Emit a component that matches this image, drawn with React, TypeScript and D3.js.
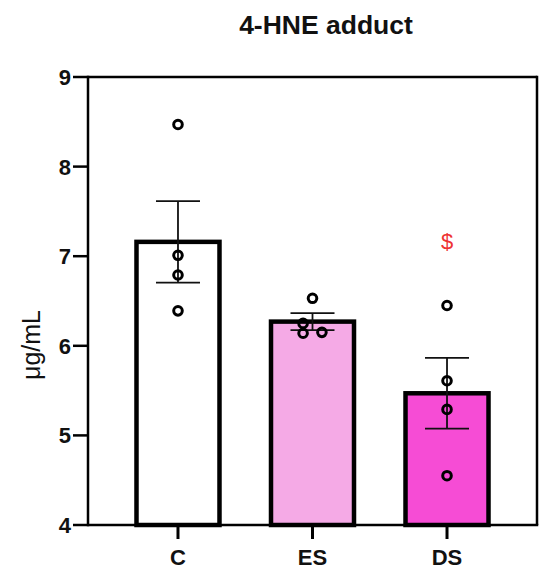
import React from "react";
import * as d3 from "d3";

const categories = ["C", "ES", "DS"];
const means = [7.16, 6.27, 5.47];
const sems = [0.455, 0.095, 0.395];
const pointsC = [8.47, 7.01, 6.79, 6.39];
const pointsES = [6.53, 6.25, 6.14, 6.15];
const pointsDS = [6.45, 5.61, 5.29, 4.55];
const jitterC = [0, 0, 0, 0];
const jitterES = [0, -0.07, -0.07, 0.07];
const jitterDS = [0, 0, 0, 0];
const barColors = ["#ffffff", "#f5aae6", "#f64cd5"];
const yTicks = [4, 5, 6, 7, 8, 9];
const title = "4-HNE adduct";
const yLabel = "μg/mL";
const annotation = "$";

const W = 550;
const H = 574;
const left = 88;
const right = 537;
const top = 77;
const bottom = 525;
const font = "'Liberation Sans', Arial, sans-serif";

export default function App() {
  const y = d3.scaleLinear().domain([4, 9]).range([bottom, top]);
  const x = d3.scalePoint().domain(categories).range([left, right]).padding(0.669);
  const step = x.step();
  const barW = 83;
  const capW = 44;
  const allPoints = [pointsC, pointsES, pointsDS];
  const allJitter = [jitterC, jitterES, jitterDS];

  return (
    <svg width={W} height={H} style={{ position: "absolute", left: 0, top: 0, background: "#fff" }}>
      <text x={326} y={34} textAnchor="middle" fontFamily={font} fontWeight="bold" fontSize={26.5} fill="#111">
        {title}
      </text>
      {/* frame */}
      <line x1={left} x2={right} y1={top} y2={top} stroke="#000" strokeWidth={2.5} />
      <line x1={right} x2={right} y1={top - 1.25} y2={bottom} stroke="#000" strokeWidth={2.5} />
      {/* bars */}
      {categories.map((c, i) => (
        <rect
          key={c}
          x={(x(c) as number) - barW / 2}
          y={y(means[i])}
          width={barW}
          height={bottom - y(means[i])}
          fill={barColors[i]}
          stroke="#000"
          strokeWidth={4.5}
        />
      ))}
      {/* error bars */}
      {categories.map((c, i) => {
        const cx = x(c) as number;
        const hi = y(means[i] + sems[i]);
        const lo = y(means[i] - sems[i]);
        return (
          <g key={c} stroke="#111" strokeWidth={1.8}>
            <line x1={cx} x2={cx} y1={hi} y2={lo} />
            <line x1={cx - capW / 2} x2={cx + capW / 2} y1={hi} y2={hi} />
            <line x1={cx - capW / 2} x2={cx + capW / 2} y1={lo} y2={lo} />
          </g>
        );
      })}
      {/* points */}
      {categories.map((c, i) =>
        allPoints[i].map((v, j) => (
          <circle
            key={c + j}
            cx={(x(c) as number) + allJitter[i][j] * step}
            cy={y(v)}
            r={4.3}
            fill="none"
            stroke="#000"
            strokeWidth={3}
          />
        ))
      )}
      {/* annotation */}
      <text x={x("DS") as number} y={249} textAnchor="middle" fontFamily={font} fontSize={22} fill="#ee3333">
        {annotation}
      </text>
      {/* y axis */}
      <line x1={left} x2={left} y1={top - 1.25} y2={bottom + 1.25} stroke="#000" strokeWidth={2.5} />
      {yTicks.map((t) => (
        <g key={t}>
          <line x1={left - 15} x2={left} y1={y(t)} y2={y(t)} stroke="#000" strokeWidth={2.5} />
          <text x={left - 17} y={y(t)} dy="0.36em" textAnchor="end" fontFamily={font} fontWeight="bold" fontSize={22} fill="#111">
            {t}
          </text>
        </g>
      ))}
      {/* x axis */}
      <line x1={left} x2={right + 1.25} y1={bottom} y2={bottom} stroke="#000" strokeWidth={2.5} />
      {categories.map((c) => (
        <g key={c}>
          <line x1={x(c) as number} x2={x(c) as number} y1={bottom} y2={bottom + 14} stroke="#000" strokeWidth={3} />
          <text x={x(c) as number} y={565} textAnchor="middle" fontFamily={font} fontWeight="bold" fontSize={22} fill="#111">
            {c}
          </text>
        </g>
      ))}
      <text
        transform={`translate(40, 345) rotate(-90)`}
        textAnchor="middle"
        fontFamily={font}
        fontSize={25}
        fill="#111"
      >
        {yLabel}
      </text>
    </svg>
  );
}
